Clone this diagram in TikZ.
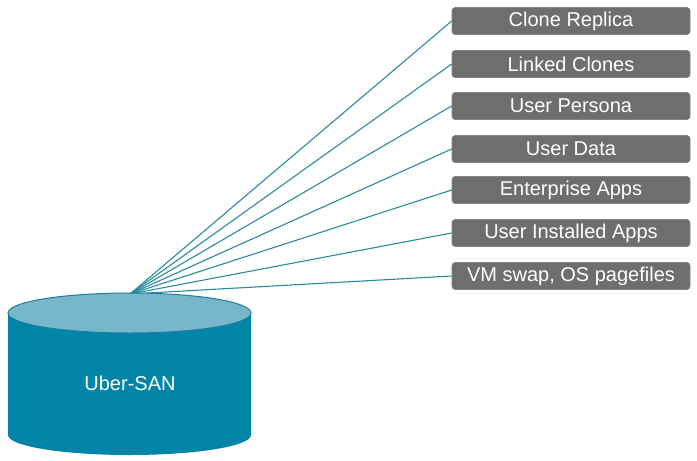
\documentclass[tikz,border=0pt]{standalone}
\usepackage{fontspec}
\setmainfont{Liberation Sans}
\definecolor{boxgray}{HTML}{6E6E6E}
\definecolor{linkteal}{HTML}{2A8B9C}
\definecolor{sanbody}{HTML}{0084A7}
\definecolor{santop}{HTML}{78B7CB}
\definecolor{sanedge}{HTML}{1C7E98}
\begin{document}
\begin{tikzpicture}[x=1pt,y=-1pt,
  itembox/.style={fill=boxgray, draw=boxgray!85!white, line width=0.6pt, rounded corners=3pt,
    minimum width=238pt, minimum height=27pt, inner sep=0pt, text=white,
    font=\fontsize{20}{24}\selectfont},
  link/.style={draw=linkteal, line width=1.1pt}]
\useasboundingbox (0,0) rectangle (697,461);
% boxes
\node[itembox] (b1) at (571,21) {Clone Replica};
\node[itembox] (b2) at (571,64) {Linked Clones};
\node[itembox] (b3) at (571,106) {User Persona};
\node[itembox] (b4) at (571,149) {User Data};
\node[itembox] (b5) at (571,190) {Enterprise Apps};
\node[itembox] (b6) at (571,233) {User Installed Apps};
\node[itembox] (b7) at (571,276) {VM swap, OS pagefiles};
\coordinate (hub) at (130,294);
\foreach \i in {1,...,7} \draw[link] (hub) -- (b\i.west);
% cylinder
\fill[sanbody] (8,313) -- (8,435) arc[start angle=180, end angle=360, x radius=121.5, y radius=-20] -- (251,313) -- cycle;
\draw[sanedge, line width=1pt, fill=santop] (129.5,313) ellipse [x radius=121.5, y radius=20];
\node[text=white, font=\fontsize{20}{24}\selectfont] (san) at (130,383) {Uber-SAN};
\end{tikzpicture}
\end{document}
